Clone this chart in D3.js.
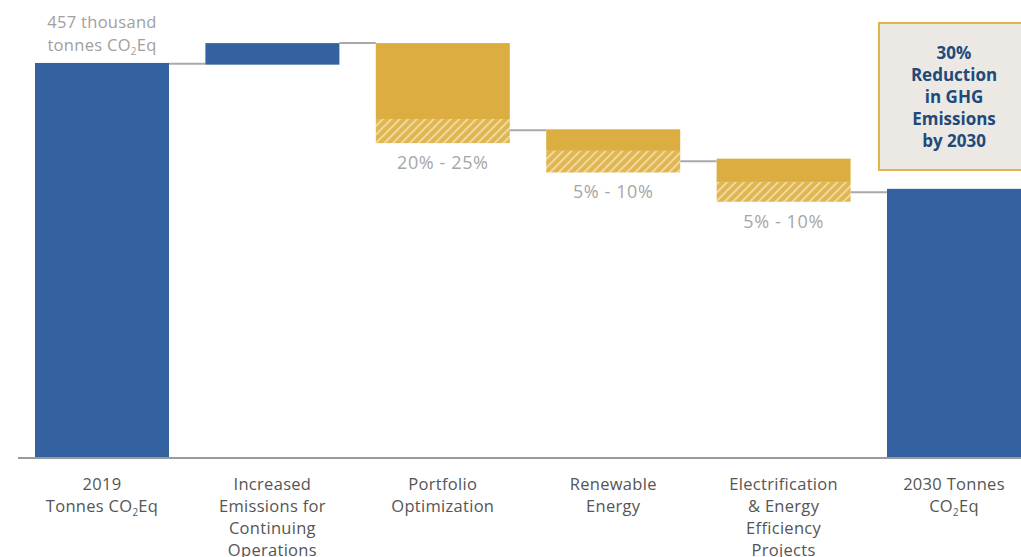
<!DOCTYPE html>
<html><head><meta charset="utf-8">
<script src="https://cdn.jsdelivr.net/npm/d3@7"></script>
<style>
html,body{margin:0;padding:0;background:#fff;}
svg{display:block;}
</style>
</head><body>
<svg id="chart" width="1021" height="557"></svg>
<script>
// ---- data (thousand tonnes CO2Eq) ----
const categories = ["2019", "Increased", "Portfolio", "Renewable", "Electrification", "2030"];
const categoryLabels = [
  ["2019", "Tonnes CO|2|Eq"],
  ["Increased", "Emissions for", "Continuing", "Operations"],
  ["Portfolio", "Optimization"],
  ["Renewable", "Energy"],
  ["Electrification", "& Energy", "Efficiency", "Projects"],
  ["2030 Tonnes", "CO|2|Eq"]
];
const barTop = [457, 480, 480, 380, 346, 311];
const solidBottom = [0, 455, 392, 355, 319, 0];
const hatchBottom = [null, null, 364, 330, 296, null];
const barKind = ["total", "increase", "decrease", "decrease", "decrease", "total"];
const connectorLevel = [456, 480, 379, 343, 307];
const rangeLabels = [null, null, "20% - 25%", "5% - 10%", "5% - 10%", null];
const topLabel = ["457 thousand", "tonnes CO|2|Eq"];
const calloutLines = ["30%", "Reduction", "in GHG", "Emissions", "by 2030"];

// ---- layout ----
const svg = d3.select("#chart");
const baseY = 457;
const y = d3.scaleLinear().domain([0, 530]).range([baseY, 0]);
const x = d3.scaleBand().domain(categories).range([16.8, 1039.2]).paddingInner(0.2136).paddingOuter(0.1068);

const BLUE = "#3462a0", GOLD = "#dcae42", GREY_LINE = "#a9a9a9";
const FONT = "'Open Sans', sans-serif";

const defs = svg.append("defs");
const pat = defs.append("pattern").attr("id", "hatch").attr("patternUnits", "userSpaceOnUse")
  .attr("width", 6).attr("height", 6).attr("patternTransform", "rotate(-45)");
pat.append("rect").attr("width", 6).attr("height", 6).attr("fill", "#e0b650");
pat.append("rect").attr("x", 0).attr("y", 0).attr("width", 6).attr("height", 1.8).attr("fill", "#f1dca8");

// connectors
const cons = svg.append("g");
connectorLevel.forEach((v, i) => {
  cons.append("line")
    .attr("x1", x(categories[i]) + x.bandwidth()).attr("x2", x(categories[i + 1]))
    .attr("y1", y(v)).attr("y2", y(v))
    .attr("stroke", GREY_LINE).attr("stroke-width", 2);
});

// bars
const bars = svg.append("g");
categories.forEach((c, i) => {
  const col = barKind[i] === "decrease" ? GOLD : BLUE;
  bars.append("rect").attr("x", x(c)).attr("width", x.bandwidth())
    .attr("y", y(barTop[i])).attr("height", y(solidBottom[i]) - y(barTop[i]))
    .attr("fill", col);
  if (hatchBottom[i] != null) {
    bars.append("rect").attr("x", x(c)).attr("width", x.bandwidth())
      .attr("y", y(solidBottom[i])).attr("height", y(hatchBottom[i]) - y(solidBottom[i]))
      .attr("fill", "url(#hatch)");
  }
  if (rangeLabels[i]) {
    svg.append("text").attr("x", x(c) + x.bandwidth() / 2).attr("y", y(hatchBottom[i]) + 26)
      .attr("text-anchor", "middle").attr("font-family", FONT).attr("font-size", 18)
      .attr("letter-spacing", 0.6).attr("fill", "#a6a6a6").text(rangeLabels[i]);
  }
});

// axis baseline
svg.append("line").attr("x1", 18).attr("x2", 1021).attr("y1", baseY + 1).attr("y2", baseY + 1)
  .attr("stroke", "#9a9a9a").attr("stroke-width", 2);

function addRich(textSel, str) {
  const parts = str.split("|");
  parts.forEach((p, k) => {
    const t = textSel.append("tspan").text(p);
    if (k === 1) t.attr("font-size", "0.6em").attr("dy", 4);
    if (k === 2) t.attr("dy", -4);
  });
}

// category labels
categories.forEach((c, i) => {
  const cx = x(c) + x.bandwidth() / 2;
  categoryLabels[i].forEach((line, j) => {
    const t = svg.append("text").attr("x", cx).attr("y", 490 + j * 22)
      .attr("text-anchor", "middle").attr("font-family", FONT).attr("font-size", 16.5)
      .attr("letter-spacing", 0.3).attr("fill", "#555");
    addRich(t, line);
  });
});

// top label
topLabel.forEach((line, j) => {
  const t = svg.append("text").attr("x", x(categories[0]) + x.bandwidth() / 2).attr("y", 28 + j * 23)
    .attr("text-anchor", "middle").attr("font-family", FONT).attr("font-size", 16.5)
    .attr("letter-spacing", 0.3).attr("fill", "#a0a0a0");
  addRich(t, line);
});

// callout
const cx0 = 879, cy0 = 23;
svg.append("rect").attr("x", cx0).attr("y", cy0).attr("width", 160).attr("height", 147)
  .attr("fill", "#ece9e5").attr("stroke", "#e0b54c").attr("stroke-width", 2);
calloutLines.forEach((line, j) => {
  svg.append("text").attr("x", 954).attr("y", 59 + j * 22)
    .attr("text-anchor", "middle").attr("font-family", FONT).attr("font-weight", "bold")
    .attr("font-size", 17).attr("fill", "#21497a").text(line);
});
</script>
</body></html>
